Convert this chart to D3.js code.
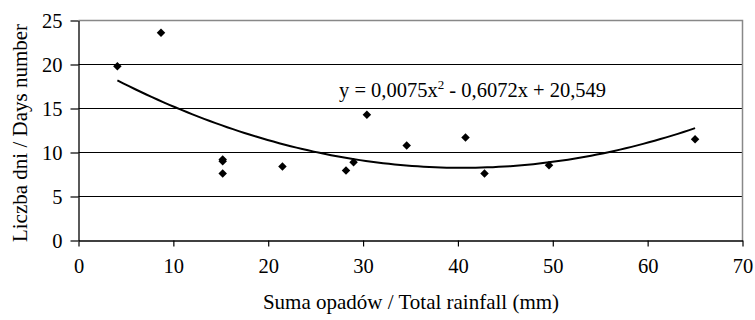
<!DOCTYPE html>
<html>
<head>
<meta charset="utf-8">
<script src="https://cdn.jsdelivr.net/npm/d3@7"></script>
<style>
  body { margin: 0; background: #fff; }
  svg text { font-family: "Liberation Serif", "Times New Roman", serif; fill: #000; }
</style>
</head>
<body>
<div id="chart"></div>
<script>
// rainfall sum (mm) vs number of days
var rainfall = [4.1, 8.7, 15.2, 15.2, 15.2, 21.5, 28.2, 29.0, 30.4, 34.6, 40.8, 42.8, 49.6, 65.0];
var days     = [19.8, 23.6, 7.6, 9.0, 9.2, 8.4, 7.95, 8.9, 14.3, 10.8, 11.7, 7.6, 8.55, 11.5];

var xTicks = [0, 10, 20, 30, 40, 50, 60, 70];
var yTicks = [0, 5, 10, 15, 20, 25];

// polynomial trend line coefficients, as printed on the chart
var trendCoef = [0.0075, -0.6072, 20.549];
var trendLabel = ["y = 0,0075x", "2", " - 0,6072x + 20,549"];

var xTitle = "Suma opadów / Total rainfall (mm)";
var yTitle = "Liczba dni / Days number";

var width = 755, height = 320;
var mLeft = 78.5, mRight = 742.5, mTop = 20.5, mBottom = 240.5;

var svg = d3.select('#chart').append('svg')
  .attr('width', width).attr('height', height);

var x = d3.scaleLinear().domain([0, 70]).range([mLeft, mRight]);
var y = d3.scaleLinear().domain([0, 25]).range([mBottom, mTop]);

// gridlines
svg.append('g').selectAll('line')
  .data(yTicks.filter(function(d) { return d > 0 && d < 25; }))
  .enter().append('line')
  .attr('x1', mLeft).attr('x2', mRight)
  .attr('y1', function(d) { return y(d); })
  .attr('y2', function(d) { return y(d); })
  .attr('stroke', '#000').attr('stroke-width', 1);

// grey frame top and right
svg.append('path')
  .attr('d', 'M' + mLeft + ',' + mTop + 'H' + mRight + 'V' + mBottom)
  .attr('fill', 'none').attr('stroke', '#888').attr('stroke-width', 1.5);

// axes
var xAxis = svg.append('g')
  .attr('transform', 'translate(0,' + mBottom + ')')
  .call(d3.axisBottom(x).tickValues(xTicks).tickSize(6).tickPadding(12).tickSizeOuter(0));
var yAxis = svg.append('g')
  .attr('transform', 'translate(' + mLeft + ',0)')
  .call(d3.axisLeft(y).tickValues(yTicks).tickSize(8).tickPadding(8).tickSizeOuter(0));

[xAxis, yAxis].forEach(function(a) {
  a.select('.domain').attr('stroke', '#000').attr('stroke-width', 1.3);
  a.selectAll('.tick line').attr('stroke', '#000').attr('stroke-width', 1.2);
  a.selectAll('.tick text')
    .attr('font-family', '"Liberation Serif", serif')
    .attr('font-size', 20.5).attr('fill', '#000');
});

// trend line
var tx = d3.range(0, 101).map(function(i) {
  return d3.min(rainfall) + (d3.max(rainfall) - d3.min(rainfall)) * i / 100;
});
var line = d3.line()
  .x(function(d) { return x(d); })
  .y(function(d) { return y(trendCoef[0] * d * d + trendCoef[1] * d + trendCoef[2]); });
svg.append('path')
  .datum(tx)
  .attr('d', line)
  .attr('fill', 'none').attr('stroke', '#000').attr('stroke-width', 2);

// points
svg.append('g').selectAll('path')
  .data(rainfall)
  .enter().append('path')
  .attr('d', d3.symbol().type(d3.symbolDiamond2).size(46))
  .attr('transform', function(d, i) { return 'translate(' + x(d) + ',' + y(days[i]) + ')'; })
  .attr('fill', '#000');

// equation label
var eq = svg.append('text')
  .attr('x', 339).attr('y', 97)
  .attr('font-size', 20.5);
eq.append('tspan').text(trendLabel[0]);
eq.append('tspan').attr('dy', -8).attr('font-size', 13).text(trendLabel[1]);
eq.append('tspan').attr('dy', 8).text(trendLabel[2]);

// axis titles
svg.append('text')
  .attr('x', 411).attr('y', 309)
  .attr('text-anchor', 'middle').attr('font-size', 21)
  .text(xTitle);

svg.append('text')
  .attr('transform', 'translate(27,' + 133 + ') rotate(-90)')
  .attr('text-anchor', 'middle').attr('font-size', 21)
  .text(yTitle);
</script>
</body>
</html>
